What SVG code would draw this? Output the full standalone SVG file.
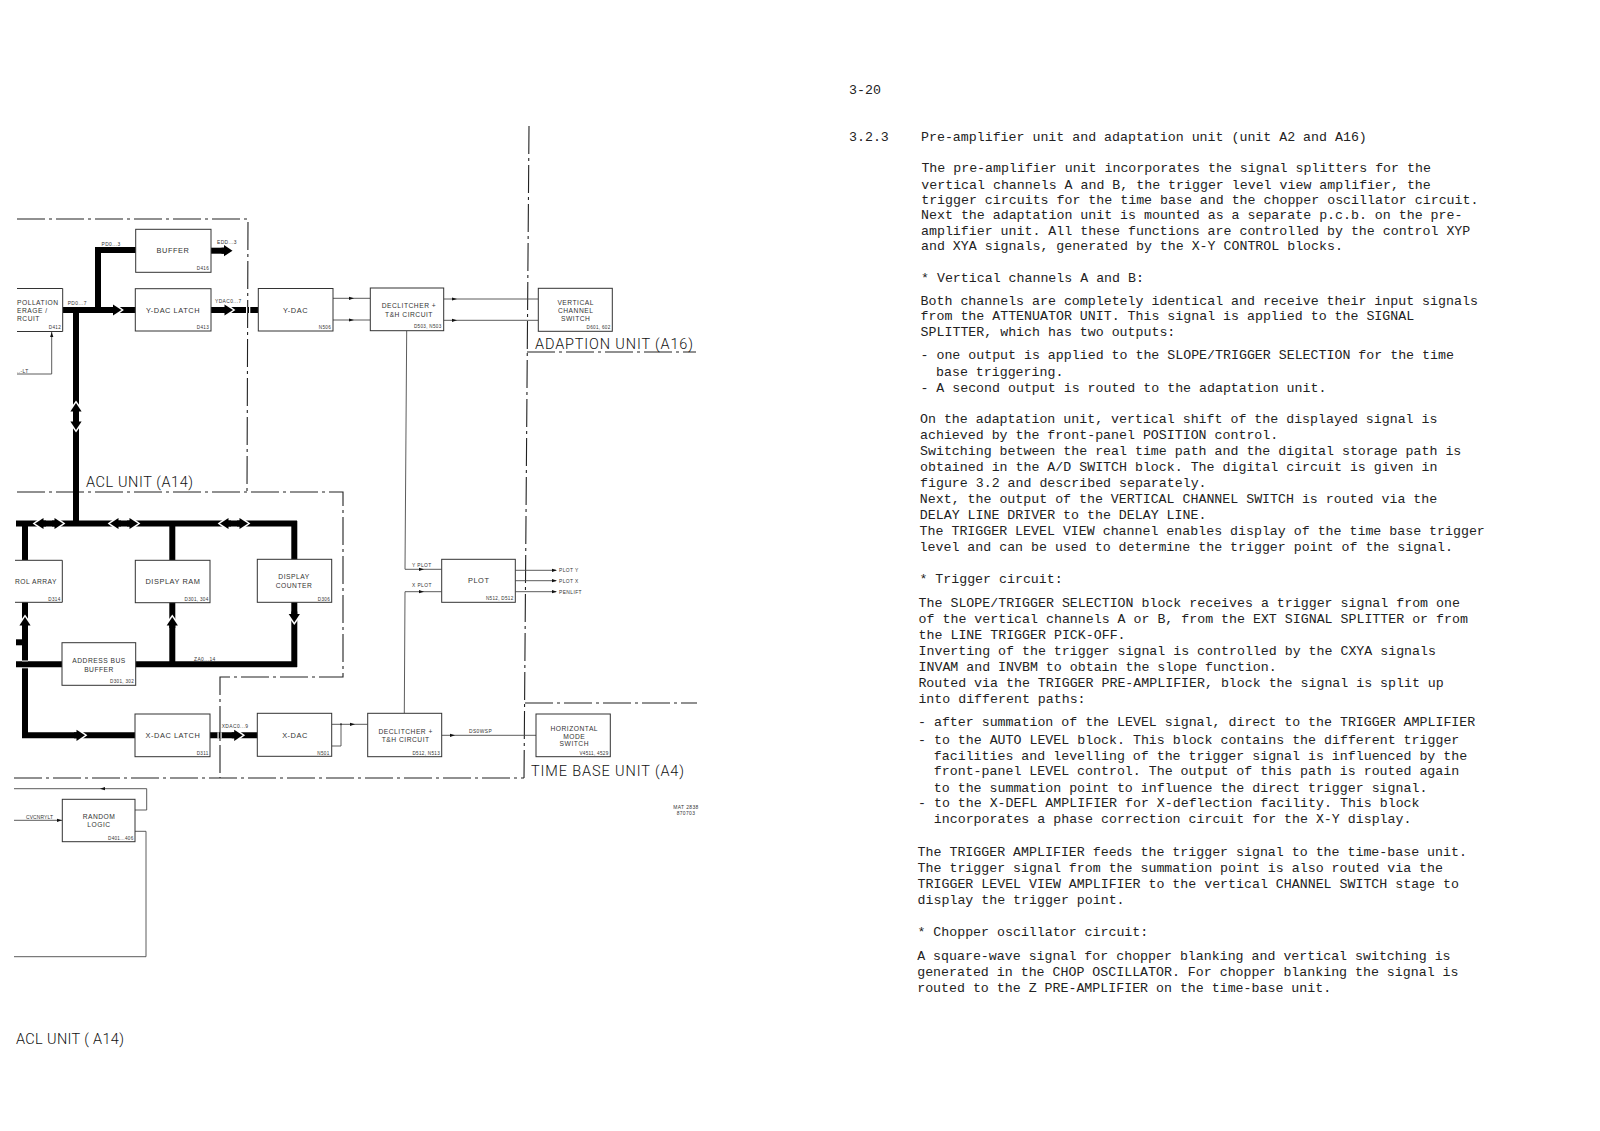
<svg xmlns="http://www.w3.org/2000/svg" width="1600" height="1131" viewBox="0 0 1600 1131">
<style>
text{font-family:"Liberation Sans",Arial,sans-serif;fill:#333}
.box{fill:#fff;stroke:#333;stroke-width:1}
.w{fill:none;stroke:#4a4a4a;stroke-width:.9}
.b{fill:none;stroke:#000;stroke-width:6;stroke-linejoin:miter}
.dd{fill:none;stroke:#222;stroke-width:1.1;stroke-dasharray:28 4 3 4}
.t{font-size:7.4px;letter-spacing:.55px;text-anchor:middle}
.t2{font-size:6.7px;letter-spacing:.5px;text-anchor:middle}
.id{font-size:4.6px;letter-spacing:.3px;text-anchor:end}
.s{font-size:4.9px;letter-spacing:.4px}
.u{font-family:Roboto,"Liberation Sans",sans-serif;font-weight:300;font-size:14.5px;fill:#111}
.p{font-family:"Liberation Mono","Courier New",monospace;font-size:13.27px;fill:#222}
</style>
<defs>
<path id="a" d="M-5 -1.6L0 0L-5 1.6Z" fill="#111"/>
<g id="A"><path d="M-8 -7.5L2.4 0L-8 7.5Z" fill="#fff"/><rect x="-11" y="-3" width="4" height="6" fill="#000"/><path d="M-8.5 -5.6L0 0L-8.5 5.6Z" fill="#000"/></g>
</defs>

<g id="boundaries">
<path class="dd" d="M17 219H248L247 491"/>
<path class="dd" d="M17 492H343V677H220V778"/>
<path class="dd" d="M14 778H524"/>
<path class="dd" d="M529 126L524 779"/>
<path class="dd" d="M527 352H696"/>
<path class="dd" d="M525 703H697"/>
</g>

<g id="connectors">
<path class="b" d="M63 310H136"/>
<path class="b" d="M98 310V250H136"/>
<path class="b" d="M211 250.7H228"/>
<path class="b" d="M211 310H258"/>
<path class="b" d="M76 310V524"/>
<path class="b" d="M16 523.5H297"/>
<path class="b" d="M294.3 521V560"/>
<path class="b" d="M172.3 523V560"/>
<path class="b" d="M25 523V560"/>
<path class="b" d="M16 664.3H62"/>
<path class="b" d="M16 642.3H24"/>
<path class="b" d="M135 664.3H297"/>
<path class="b" d="M294.3 667V602"/>
<path class="b" d="M172.3 664V602"/>
<path class="b" d="M25 602V735.3H135"/>
<path class="b" d="M210 735.3H258"/>
<path d="M22 661H28M22 667.8H28" stroke="#fff" stroke-width="1"/>
<rect x="246" y="307" width="1.3" height="6" fill="#fff"/><rect x="249" y="307" width="1.3" height="6" fill="#fff"/>
<rect x="217.5" y="732.3" width="1.2" height="6" fill="#fff"/><rect x="220.5" y="732.3" width="1.2" height="6" fill="#fff"/>

<use href="#A" transform="translate(121.5 310)"/>
<use href="#A" transform="translate(232.5 250.7)"/>
<use href="#A" transform="translate(233 310)"/>
<use href="#A" transform="translate(76 403) rotate(-90)"/>
<use href="#A" transform="translate(76 430) rotate(90)"/>
<use href="#A" transform="translate(35 523.5) rotate(180)"/><use href="#A" transform="translate(63 523.5)"/>
<use href="#A" transform="translate(110 523.5) rotate(180)"/><use href="#A" transform="translate(138 523.5)"/>
<use href="#A" transform="translate(220 523.5) rotate(180)"/><use href="#A" transform="translate(248 523.5)"/>
<use href="#A" transform="translate(25 617) rotate(-90)"/>
<use href="#A" transform="translate(172.3 617) rotate(-90)"/>
<use href="#A" transform="translate(294.3 622.5) rotate(90)"/>
<use href="#A" transform="translate(85 735.3)"/>
<use href="#A" transform="translate(242.7 735.3)"/>

<path class="w" d="M17 374H51.7V332"/>
<use href="#a" transform="translate(51.7 332) rotate(-90)"/>
<path class="w" d="M333 298.3H370M333 320H370"/>
<use href="#a" transform="translate(354 298.3)"/><use href="#a" transform="translate(354 320)"/>
<path class="w" d="M443.7 299H538M443.7 320.3H538"/>
<use href="#a" transform="translate(457 299)"/><use href="#a" transform="translate(457 320.3)"/>
<path class="w" d="M406.7 331L405 569.3H441.7"/>
<path class="w" d="M404.3 713.3L405 591.7H441.7"/>
<use href="#a" transform="translate(424 569.3)"/><use href="#a" transform="translate(424 591.7)"/>
<path class="w" d="M515.3 570.3H556M515.3 580.7H556M515.3 591.7H556"/>
<use href="#a" transform="translate(557 570.3)"/><use href="#a" transform="translate(557 580.7)"/><use href="#a" transform="translate(557 591.7)"/>
<path class="w" d="M331.7 724.3H367.7M341 724.3V746H331.7"/>
<circle cx="341" cy="724.3" r="1" fill="#333"/>
<use href="#a" transform="translate(355 724.3)"/>
<path class="w" d="M441.7 735.3H536"/>
<use href="#a" transform="translate(455 735.3)"/>
<path class="w" d="M14 788.7H146.7V810H135"/>
<use href="#a" transform="translate(100 788.7) rotate(180)"/>
<path class="w" d="M14 820.3H62"/>
<use href="#a" transform="translate(62 820.3)"/>
<path class="w" d="M135 831.3H146V956.7H14"/>

<text class="s" x="101.5" y="246">PD0...3</text>
<text class="s" x="217" y="243.5">EDD...3</text>
<text class="s" x="67.7" y="305">PD0...7</text>
<text class="s" x="215" y="302.5">YDAC0...7</text>
<text class="s" x="17" y="372.5">..-LT</text>
<text class="s" x="194" y="661">ZA0...14</text>
<text class="s" x="221.7" y="728">XDAC0...9</text>
<text class="s" x="412" y="567">Y PLOT</text>
<text class="s" x="412" y="587">X PLOT</text>
<text class="s" x="559" y="572">PLOT Y</text>
<text class="s" x="559" y="582.5">PLOT X</text>
<text class="s" x="559" y="593.5">PENLIFT</text>
<text class="s" x="469" y="733">DS0WSP</text>
<text class="s" x="26" y="818.5" style="letter-spacing:.15px">CVCNRYLT</text>
</g>

<g id="node-pollation">
<path class="box" d="M17 288.5H62.7V331.5H17"/>
<text class="t2" style="text-anchor:start" x="17" y="304.5">POLLATION</text>
<text class="t2" style="text-anchor:start" x="17" y="312.5">ERAGE /</text>
<text class="t2" style="text-anchor:start" x="17" y="321">RCUIT</text>
<text class="id" x="61" y="329">D412</text>
</g>
<g id="node-buffer">
<rect class="box" x="135.7" y="229.3" width="75.3" height="43"/>
<text class="t" x="173" y="253">BUFFER</text>
<text class="id" x="209" y="270">D416</text>
</g>
<g id="node-ydac-latch">
<rect class="box" x="135.3" y="288.7" width="75.7" height="42.3"/>
<text class="t" x="173" y="312.5">Y-DAC LATCH</text>
<text class="id" x="209" y="329">D413</text>
</g>
<g id="node-ydac">
<rect class="box" x="258.3" y="288.5" width="74.7" height="42.5"/>
<text class="t" x="295.5" y="312.5">Y-DAC</text>
<text class="id" x="331" y="329">N506</text>
</g>
<g id="node-deglitcher-y">
<rect class="box" x="370.3" y="288" width="73.4" height="42.7"/>
<text class="t2" x="409" y="307.5">DECLITCHER +</text>
<text class="t2" x="409" y="317">T&amp;H CIRCUIT</text>
<text class="id" x="441.5" y="328">D503, N503</text>
</g>
<g id="node-vertical-switch">
<rect class="box" x="538.3" y="288.3" width="74" height="43"/>
<text class="t2" x="575.7" y="304.5">VERTICAL</text>
<text class="t2" x="575.7" y="312.5">CHANNEL</text>
<text class="t2" x="575.7" y="320.5">SWITCH</text>
<text class="id" x="610.5" y="329">D601, 602</text>
</g>
<g id="node-control-array">
<path class="box" d="M15 560.3H62.3V602.3H15"/>
<text class="t2" style="text-anchor:start" x="15" y="583.5">ROL ARRAY</text>
<text class="id" x="60.5" y="600.5">D314</text>
</g>
<g id="node-display-ram">
<rect class="box" x="135.3" y="560.3" width="74.7" height="42.4"/>
<text class="t" x="173" y="583.5">DISPLAY RAM</text>
<text class="id" x="208.5" y="600.5">D301, 304</text>
</g>
<g id="node-display-counter">
<rect class="box" x="257.3" y="559.3" width="74.4" height="43"/>
<text class="t2" x="294" y="578.5">DISPLAY</text>
<text class="t2" x="294" y="587.5">COUNTER</text>
<text class="id" x="330" y="600.5">D306</text>
</g>
<g id="node-address-buffer">
<rect class="box" x="62" y="642.7" width="73.7" height="42.6"/>
<text class="t2" x="99" y="662.5">ADDRESS BUS</text>
<text class="t2" x="99" y="671.5">BUFFER</text>
<text class="id" x="134" y="683">D301, 302</text>
</g>
<g id="node-xdac-latch">
<rect class="box" x="135" y="714" width="75" height="42.7"/>
<text class="t" x="173" y="737.5">X-DAC LATCH</text>
<text class="id" x="208.5" y="754.5">D311</text>
</g>
<g id="node-xdac">
<rect class="box" x="257.3" y="713.3" width="74.4" height="43"/>
<text class="t" x="295" y="737.5">X-DAC</text>
<text class="id" x="329.5" y="754.5">N501</text>
</g>
<g id="node-deglitcher-x">
<rect class="box" x="367.7" y="713.3" width="74" height="43.4"/>
<text class="t2" x="405.7" y="733.5">DECLITCHER +</text>
<text class="t2" x="405.7" y="741.5">T&amp;H CIRCUIT</text>
<text class="id" x="440" y="754.5">D512, N513</text>
</g>
<g id="node-horizontal-switch">
<rect class="box" x="536" y="714" width="74.3" height="42.7"/>
<text class="t2" x="574.3" y="730.8">HORIZONTAL</text>
<text class="t2" x="574.3" y="738.5">MODE</text>
<text class="t2" x="574.3" y="746.2">SWITCH</text>
<text class="id" x="608.5" y="755">V4511, 4529</text>
</g>
<g id="node-plot">
<rect class="box" x="441.7" y="559.3" width="73.6" height="43"/>
<text class="t" x="478.7" y="583">PLOT</text>
<text class="id" x="513.5" y="600">N512, D512</text>
</g>
<g id="node-random-logic">
<rect class="box" x="62.3" y="799.3" width="72.7" height="42.4"/>
<text class="t2" x="99" y="819.2">RANDOM</text>
<text class="t2" x="99" y="827.2">LOGIC</text>
<text class="id" x="133.5" y="840">D401...406</text>
</g>

<g id="unit-labels">
<text class="u" x="86" y="487.3" textLength="107" lengthAdjust="spacing">ACL UNIT (A14)</text>
<text class="u" x="535" y="348.7" textLength="158" lengthAdjust="spacing">ADAPTION UNIT (A16)</text>
<text class="u" x="531" y="775.7" textLength="153" lengthAdjust="spacing">TIME BASE UNIT (A4)</text>
<text class="u" x="16" y="1044.3" textLength="108" lengthAdjust="spacing">ACL UNIT ( A14)</text>
<text class="s" x="686" y="808.5" text-anchor="middle">MAT 2838</text>
<text class="s" x="686" y="814.5" text-anchor="middle">870703</text>
</g>

<g id="page-text">
<text class="p" x="849" y="93.8">3-20</text>
<text class="p" x="849" y="140.7">3.2.3</text>
<text class="p" x="921" y="140.7">Pre-amplifier unit and adaptation unit (unit A2 and A16)</text>
<text class="p" x="921.4" y="172.4">The pre-amplifier unit incorporates the signal splitters for the</text>
<text class="p" x="921.3" y="188.7">vertical channels A and B, the trigger level view amplifier, the</text>
<text class="p" x="921.2" y="204">trigger circuits for the time base and the chopper oscillator circuit.</text>
<text class="p" x="921.1" y="219.3">Next the adaptation unit is mounted as a separate p.c.b. on the pre-</text>
<text class="p" x="921" y="234.6">amplifier unit. All these functions are controlled by the control XYP</text>
<text class="p" x="921" y="249.9">and XYA signals, generated by the X-Y CONTROL blocks.</text>
<text class="p" x="921" y="281.6">* Vertical channels A and B:</text>
<text class="p" x="920.6" y="305">Both channels are completely identical and receive their input signals</text>
<text class="p" x="920.6" y="320.3">from the ATTENUATOR UNIT. This signal is applied to the SIGNAL</text>
<text class="p" x="920.6" y="335.6">SPLITTER, which has two outputs:</text>
<text class="p" x="920.5" y="359.1">- one output is applied to the SLOPE/TRIGGER SELECTION for the time</text>
<text class="p" x="936" y="376.4">base triggering.</text>
<text class="p" x="920.4" y="391.8">- A second output is routed to the adaptation unit.</text>
<text class="p" x="920" y="423.4">On the adaptation unit, vertical shift of the displayed signal is</text>
<text class="p" x="920" y="438.7">achieved by the front-panel POSITION control.</text>
<text class="p" x="920" y="455">Switching between the real time path and the digital storage path is</text>
<text class="p" x="920" y="471.3">obtained in the A/D SWITCH block. The digital circuit is given in</text>
<text class="p" x="920" y="486.7">figure 3.2 and described separately.</text>
<text class="p" x="919.8" y="503">Next, the output of the VERTICAL CHANNEL SWITCH is routed via the</text>
<text class="p" x="919.8" y="519.3">DELAY LINE DRIVER to the DELAY LINE.</text>
<text class="p" x="919.6" y="534.6">The TRIGGER LEVEL VIEW channel enables display of the time base trigger</text>
<text class="p" x="919.6" y="550.9">level and can be used to determine the trigger point of the signal.</text>
<text class="p" x="919.4" y="582.6">* Trigger circuit:</text>
<text class="p" x="918.6" y="607">The SLOPE/TRIGGER SELECTION block receives a trigger signal from one</text>
<text class="p" x="918.6" y="623.4">of the vertical channels A or B, from the EXT SIGNAL SPLITTER or from</text>
<text class="p" x="918.6" y="638.7">the LINE TRIGGER PICK-OFF.</text>
<text class="p" x="918.5" y="655">Inverting of the trigger signal is controlled by the CXYA signals</text>
<text class="p" x="918.5" y="671.3">INVAM and INVBM to obtain the slope function.</text>
<text class="p" x="918.4" y="686.7">Routed via the TRIGGER PRE-AMPLIFIER, block the signal is split up</text>
<text class="p" x="918.4" y="703">into different paths:</text>
<text class="p" x="918" y="726.4">- after summation of the LEVEL signal, direct to the TRIGGER AMPLIFIER</text>
<text class="p" x="918" y="743.8">- to the AUTO LEVEL block. This block contains the different trigger</text>
<text class="p" x="933.8" y="760.1">facilities and levelling of the trigger signal is influenced by the</text>
<text class="p" x="933.8" y="775.4">front-panel LEVEL control. The output of this path is routed again</text>
<text class="p" x="933.8" y="791.8">to the summation point to influence the direct trigger signal.</text>
<text class="p" x="918" y="807.1">- to the X-DEFL AMPLIFIER for X-deflection facility. This block</text>
<text class="p" x="933.8" y="823.4">incorporates a phase correction circuit for the X-Y display.</text>
<text class="p" x="917.6" y="856">The TRIGGER AMPLIFIER feeds the trigger signal to the time-base unit.</text>
<text class="p" x="917.6" y="872.4">The trigger signal from the summation point is also routed via the</text>
<text class="p" x="917.6" y="887.7">TRIGGER LEVEL VIEW AMPLIFIER to the vertical CHANNEL SWITCH stage to</text>
<text class="p" x="917.6" y="904">display the trigger point.</text>
<text class="p" x="917.4" y="935.6">* Chopper oscillator circuit:</text>
<text class="p" x="917.2" y="960.1">A square-wave signal for chopper blanking and vertical switching is</text>
<text class="p" x="917.2" y="976.4">generated in the CHOP OSCILLATOR. For chopper blanking the signal is</text>
<text class="p" x="917.2" y="991.8">routed to the Z PRE-AMPLIFIER on the time-base unit.</text>
</g>
</svg>
